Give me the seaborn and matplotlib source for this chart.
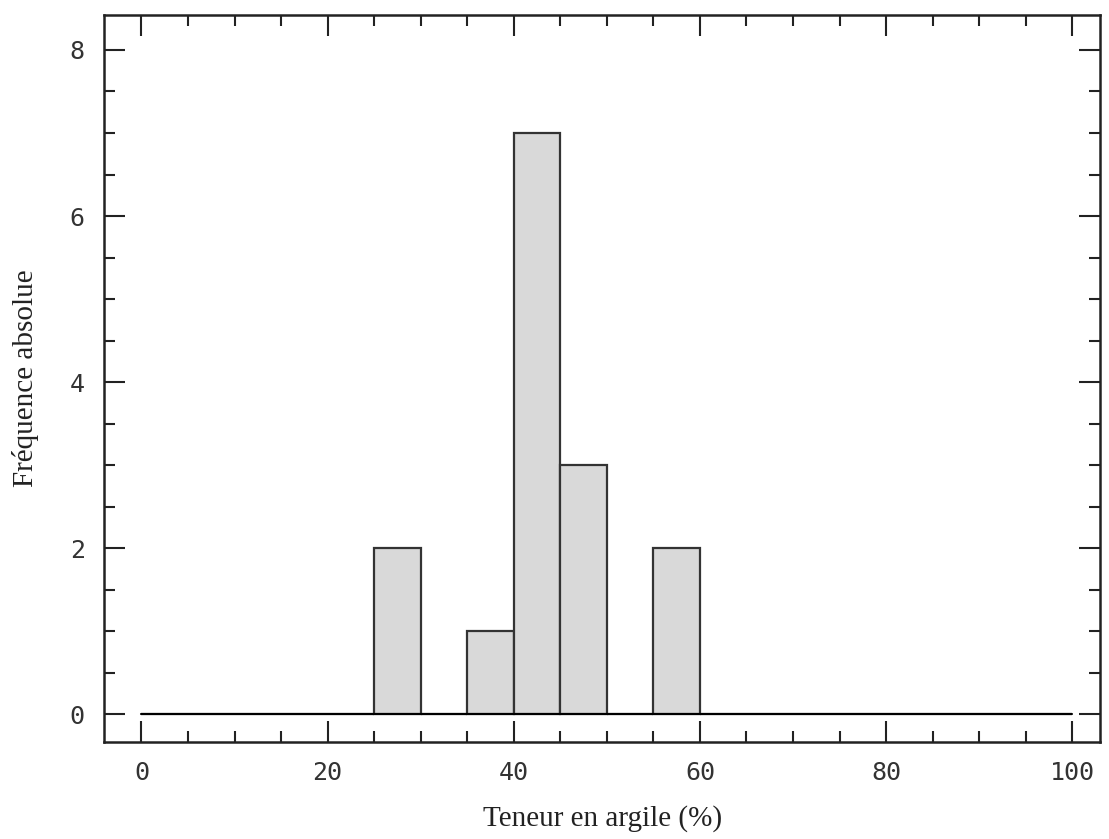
import numpy as np
import pandas as pd
import matplotlib
matplotlib.use('Agg')
import matplotlib.pyplot as plt
from matplotlib.ticker import MultipleLocator
import seaborn as sns

# Histogram data (bins of 5 % clay content)
bin_left = [25, 35, 40, 45, 55]
counts = [2, 1, 7, 3, 2]
bin_edges = list(range(0, 105, 5))
x_ticks = [0, 20, 40, 60, 80, 100]
y_ticks = [0, 2, 4, 6, 8]

df = pd.DataFrame({'center': [b + 2.5 for b in bin_left], 'n': counts})

sns.set_theme(style="ticks")

fig = plt.figure(figsize=(11.09, 8.39), dpi=100)
ax = fig.add_axes([0.094, 0.116, 0.898, 0.866])

sns.histplot(data=df, x='center', weights='n', bins=bin_edges, ax=ax,
             color='#d9d9d9', alpha=1, edgecolor='#333333', linewidth=1.6)

# baseline from 0 to 100
ax.plot([0, 100], [0, 0], color='black', linewidth=1.5)

ax.set_xlim(-4, 103)
ax.set_ylim(-0.33, 8.42)
ax.set_xticks(x_ticks)
ax.set_yticks(y_ticks)
ax.xaxis.set_minor_locator(MultipleLocator(5))
ax.yaxis.set_minor_locator(MultipleLocator(0.5))
ax.tick_params(which='both', direction='in', top=True, right=True,
               colors='#222222', width=1.5)
ax.tick_params(which='major', length=15, pad=14)
ax.tick_params(which='minor', length=8)
for lab in ax.get_xticklabels() + ax.get_yticklabels():
    lab.set_family('DejaVu Sans Mono')
    lab.set_fontsize(18)
    lab.set_color('#333333')

for s in ax.spines.values():
    s.set_linewidth(1.8)
    s.set_color('#222222')

ax.set_xlabel('Teneur en argile (%)', family='Liberation Serif', fontsize=21,
              color='#222222', labelpad=14)
ax.set_ylabel('Fréquence absolue', family='Liberation Serif', fontsize=21,
              color='#222222', labelpad=22)

fig.savefig('out.png', dpi=100)
